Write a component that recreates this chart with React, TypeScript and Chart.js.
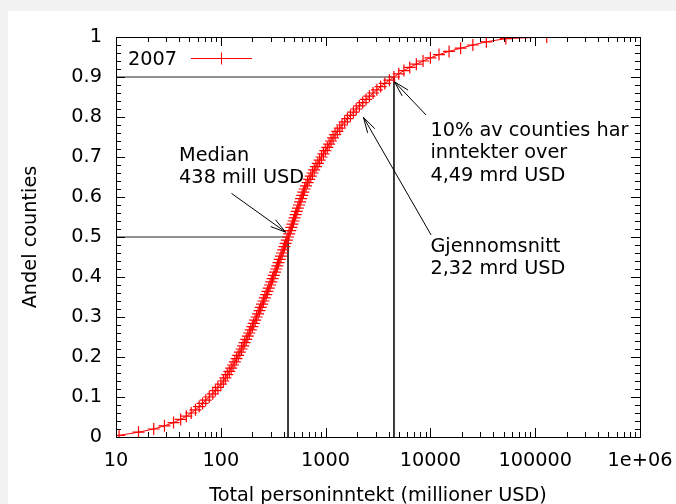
import React, { useEffect, useRef } from 'react';
import { Chart, registerables } from 'chart.js';

Chart.register(...registerables);

// ---- data ----
const seriesLabel = '2007';

// cumulative share of counties (marker positions)
const shares = [
  0.004, 0.012, 0.020, 0.028, 0.036, 0.044, 0.052, 0.060, 0.068, 0.076,
  0.084, 0.092, 0.100, 0.108, 0.116, 0.124, 0.132, 0.140, 0.148, 0.156,
  0.164, 0.172, 0.180, 0.188, 0.196, 0.204, 0.212, 0.220, 0.228, 0.236,
  0.244, 0.252, 0.260, 0.268, 0.276, 0.284, 0.292, 0.300, 0.308, 0.316,
  0.324, 0.332, 0.340, 0.348, 0.356, 0.364, 0.372, 0.380, 0.388, 0.396,
  0.404, 0.412, 0.420, 0.428, 0.436, 0.444, 0.452, 0.460, 0.468, 0.476,
  0.484, 0.492, 0.500, 0.508, 0.516, 0.524, 0.532, 0.540, 0.548, 0.556,
  0.564, 0.572, 0.580, 0.588, 0.596, 0.604, 0.612, 0.620, 0.628, 0.636,
  0.644, 0.652, 0.660, 0.668, 0.676, 0.684, 0.692, 0.700, 0.708, 0.716,
  0.724, 0.732, 0.740, 0.748, 0.756, 0.764, 0.772, 0.780, 0.788, 0.796,
  0.804, 0.812, 0.820, 0.828, 0.836, 0.844, 0.852, 0.860, 0.868, 0.876,
  0.884, 0.892, 0.900, 0.908, 0.916, 0.924, 0.932, 0.940, 0.948, 0.956,
  0.964, 0.972, 0.980, 0.988, 0.996, 1.000,
];

// total personal income per county, million USD
const incomes = [
  10.7, 16.4, 22.9, 29.0, 35.4, 41.4, 46.9, 52.2, 57.3, 62.2,
  67.0, 71.8, 77.6, 83.8, 88.7, 93.8, 100.2, 105.7, 110.4, 115.3,
  120.5, 125.6, 130.9, 136.1, 141.3, 146.6, 152.1, 157.8, 163.3, 169.0,
  175.0, 181.1, 187.1, 193.2, 200.0, 206.1, 212.8, 219.8, 227.0, 233.9,
  240.4, 247.7, 255.3, 263.0, 271.0, 278.6, 287.1, 295.1, 303.4, 311.9,
  320.6, 329.6, 338.1, 346.7, 355.6, 365.6, 375.0, 384.6, 394.5, 404.6,
  415.9, 426.6, 437.5, 448.7, 459.2, 470.9, 481.9, 494.3, 505.8, 517.6,
  530.9, 543.3, 557.2, 570.2, 583.4, 598.4, 613.8, 631.0, 650.1, 673.0,
  696.6, 722.8, 749.9, 778.0, 809.1, 843.3, 877.0, 914.1, 952.8, 993.1,
  1038, 1081, 1127, 1178, 1233, 1294, 1365, 1435, 1521, 1614,
  1726, 1841, 1963, 2099, 2259, 2432, 2618, 2838, 3083, 3350,
  3673, 4064, 4492, 4989, 5585, 6353, 7345, 8511, 10000, 12078,
  15066, 19409, 25410, 34198, 52481, 128825,
];

const xTickValues = [10, 100, 1000, 10000, 100000, 1000000];
const xTickLabels = ['10', '100', '1000', '10000', '100000', '1e+06'];
const yTickValues = [0, 0.1, 0.2, 0.3, 0.4, 0.5, 0.6, 0.7, 0.8, 0.9, 1];
const yTickLabels = ['0', '0.1', '0.2', '0.3', '0.4', '0.5', '0.6', '0.7', '0.8', '0.9', '1'];

const xTitle = 'Total personinntekt (millioner USD)';
const yTitle = 'Andel counties';

// guide lines: median and 90th percentile
const medianIncome = 438;
const medianShare = 0.5;
const p90Income = 4490;
const p90Share = 0.9;

// text labels (anchor = left end of first baseline, in data coords)
const labelLines = [
  ['Median', '438 mill USD'],
  ['10% av counties har', 'inntekter over', '4,49 mrd USD'],
  ['Gjennomsnitt', '2,32 mrd USD'],
];
const labelX = [40, 10000, 10000];
const labelY = [0.691, 0.753, 0.463];

// arrows (tail -> tip, data coords)
const arrowTailX = [126.5, 9100, 10160];
const arrowTailY = [0.609, 0.805, 0.505];
const arrowTipX = [416, 4540, 2300];
const arrowTipY = [0.512, 0.888, 0.799];

const FAMILY = '"DejaVu Sans", sans-serif';
const FSIZE = 19.3;
const FONT = `${FSIZE}px ${FAMILY}`;
const RED = '#ff0000';

const decorPlugin = {
  id: 'decor',
  afterDatasetsDraw(chart: any) {
    const { ctx, chartArea: a, scales } = chart;
    const x = scales.x;
    const y = scales.y;
    ctx.save();
    ctx.strokeStyle = '#000';
    ctx.lineWidth = 1;

    // frame
    ctx.strokeRect(Math.round(a.left) + 0.5, Math.round(a.top) + 0.5,
      Math.round(a.right - a.left), Math.round(a.bottom - a.top));

    // x ticks (inward, mirrored)
    ctx.beginPath();
    for (let d = 0; d < xTickValues.length; d++) {
      const base = xTickValues[d];
      const maxK = d === xTickValues.length - 1 ? 1 : 9;
      for (let k = 1; k <= maxK; k++) {
        const px = Math.round(x.getPixelForValue(base * k)) + 0.5;
        const len = k === 1 ? 9 : 5;
        ctx.moveTo(px, a.bottom);
        ctx.lineTo(px, a.bottom - len);
        ctx.moveTo(px, a.top);
        ctx.lineTo(px, a.top + len);
      }
    }
    // y ticks every 0.02, major every 0.1
    for (let i = 0; i <= 50; i++) {
      const py = Math.round(y.getPixelForValue(i / 50)) + 0.5;
      const len = i % 5 === 0 ? 9 : 5;
      ctx.moveTo(a.left, py);
      ctx.lineTo(a.left + len, py);
      ctx.moveTo(a.right, py);
      ctx.lineTo(a.right - len, py);
    }
    ctx.stroke();

    // arrows
    for (let i = 0; i < arrowTipX.length; i++) {
      const x0 = x.getPixelForValue(arrowTailX[i]);
      const y0 = y.getPixelForValue(arrowTailY[i]);
      const x1 = x.getPixelForValue(arrowTipX[i]);
      const y1 = y.getPixelForValue(arrowTipY[i]);
      const ang = Math.atan2(y1 - y0, x1 - x0);
      const hl = 16;
      const ha = (15 * Math.PI) / 180;
      ctx.beginPath();
      ctx.moveTo(x0, y0);
      ctx.lineTo(x1, y1);
      ctx.moveTo(x1 - hl * Math.cos(ang - ha), y1 - hl * Math.sin(ang - ha));
      ctx.lineTo(x1, y1);
      ctx.lineTo(x1 - hl * Math.cos(ang + ha), y1 - hl * Math.sin(ang + ha));
      ctx.stroke();
    }

    // labels
    ctx.fillStyle = '#000';
    ctx.font = FONT;
    ctx.textAlign = 'left';
    ctx.textBaseline = 'alphabetic';
    for (let i = 0; i < labelLines.length; i++) {
      const lx = x.getPixelForValue(labelX[i]);
      const ly = y.getPixelForValue(labelY[i]);
      labelLines[i].forEach((t, j) => ctx.fillText(t, lx, ly + j * 22.5));
    }

    // legend
    ctx.fillText(seriesLabel, a.left + 12, a.top + 28);
    const ly = a.top + 21.5;
    const lx0 = a.left + 75;
    const lx1 = a.left + 136;
    const lc = (lx0 + lx1) / 2;
    ctx.strokeStyle = RED;
    ctx.beginPath();
    ctx.moveTo(lx0, ly);
    ctx.lineTo(lx1, ly);
    ctx.moveTo(lc, ly - 6);
    ctx.lineTo(lc, ly + 6);
    ctx.stroke();

    // axis titles
    ctx.fillStyle = '#000';
    ctx.textAlign = 'center';
    ctx.fillText(xTitle, (a.left + a.right) / 2, 490);
    ctx.save();
    ctx.translate(28, (a.top + a.bottom) / 2);
    ctx.rotate(-Math.PI / 2);
    ctx.fillText(yTitle, 0, 0);
    ctx.restore();

    ctx.restore();
  },
};

export default function App() {
  const ref = useRef<HTMLCanvasElement | null>(null);

  useEffect(() => {
    if (!ref.current) return;
    const curve = incomes.map((v, i) => ({ x: v, y: shares[i] }));
    const xMin = xTickValues[0];
    const chart = new Chart(ref.current, {
      type: 'scatter',
      data: {
        datasets: [
          {
            label: seriesLabel,
            data: curve,
            showLine: true,
            borderColor: RED,
            borderWidth: 1,
            pointStyle: 'cross',
            pointRadius: 6,
            pointBorderColor: RED,
            pointBorderWidth: 1.2,
            pointBackgroundColor: RED,
          },
          {
            label: 'median',
            data: [
              { x: xMin, y: medianShare },
              { x: medianIncome, y: medianShare },
              { x: medianIncome, y: 0 },
            ],
            showLine: true,
            borderColor: '#222',
            borderWidth: 1,
            pointRadius: 0,
          },
          {
            label: 'p90',
            data: [
              { x: xMin, y: p90Share },
              { x: p90Income, y: p90Share },
              { x: p90Income, y: 0 },
            ],
            showLine: true,
            borderColor: '#222',
            borderWidth: 1,
            pointRadius: 0,
          },
        ],
      },
      options: {
        animation: false,
        responsive: false,
        events: [],
        layout: { padding: { top: 26, right: 36, left: 0, bottom: 0 } },
        plugins: {
          legend: { display: false },
          tooltip: { enabled: false },
          title: { display: false },
        },
        scales: {
          x: {
            type: 'logarithmic',
            min: xTickValues[0],
            max: xTickValues[xTickValues.length - 1],
            grid: { display: false, drawTicks: false },
            border: { display: false },
            afterBuildTicks: (s: any) => {
              s.ticks = xTickValues.map((v) => ({ value: v, major: true }));
            },
            afterFit: (s: any) => {
              s.height = 67;
              s.paddingLeft = 0;
              s.paddingRight = 0;
            },
            ticks: {
              autoSkip: false,
              maxRotation: 0,
              padding: 12,
              color: '#000',
              font: { family: FAMILY, size: FSIZE },
              callback: (v: any) => {
                const i = xTickValues.indexOf(Number(v));
                return i >= 0 ? xTickLabels[i] : '';
              },
            },
          },
          y: {
            type: 'linear',
            min: 0,
            max: 1,
            grid: { display: false, drawTicks: false },
            border: { display: false },
            afterBuildTicks: (s: any) => {
              s.ticks = yTickValues.map((v) => ({ value: v }));
            },
            afterFit: (s: any) => {
              s.width = 108;
              s.paddingTop = 0;
              s.paddingBottom = 0;
            },
            ticks: {
              autoSkip: false,
              padding: 14,
              color: '#000',
              font: { family: FAMILY, size: FSIZE },
              callback: (v: any, i: number) => yTickLabels[i],
            },
          },
        },
      },
      plugins: [decorPlugin],
    } as any);
    return () => chart.destroy();
  }, []);

  return (
    <div
      style={{
        position: 'absolute',
        left: 0,
        top: 0,
        width: 676,
        height: 504,
        background: '#f2f2f2',
        overflow: 'hidden',
      }}
    >
      <div
        style={{
          position: 'absolute',
          left: 8,
          top: 11,
          width: 668,
          height: 493,
          background: '#ffffff',
        }}
      >
        <canvas ref={ref} width={668} height={493} style={{ display: 'block' }} />
      </div>
    </div>
  );
}
